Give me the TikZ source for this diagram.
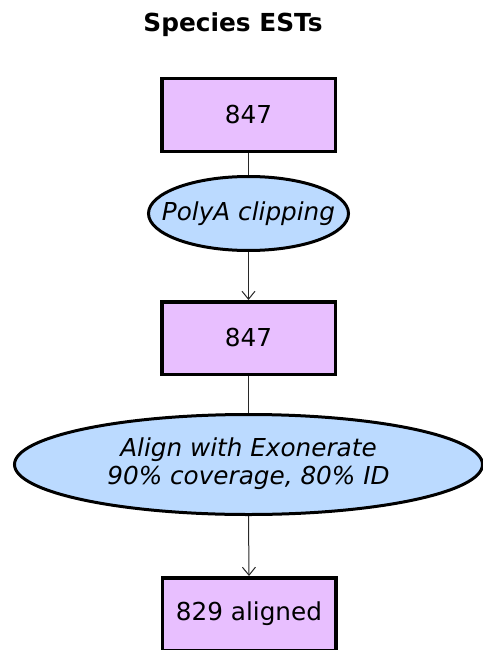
\documentclass[tikz,border=0pt]{standalone}
\usepackage{fontspec}
\setmainfont{DejaVu Sans}
\usetikzlibrary{shapes.geometric,arrows.meta}
\definecolor{boxfill}{RGB}{232,191,255}
\definecolor{ellfill}{RGB}{187,218,255}
\definecolor{linkcol}{RGB}{40,40,40}
\begin{document}
\begin{tikzpicture}[x=1pt,y=-1pt,
  every node/.style={font=\fontsize{24.7}{28.3}\selectfont},
  countbox/.style={draw=black,line width=3.5pt,fill=boxfill,minimum width=173.5pt,minimum height=72.5pt,inner sep=0pt},
  stepell/.style={ellipse,draw=black,line width=3pt,fill=ellfill,inner sep=0pt,font=\fontsize{24.7}{28.3}\selectfont\itshape},
  link/.style={draw=linkcol,line width=1pt},
  arrowlink/.style={link,-{Straight Barb[length=8pt,width=13pt,line width=1pt]}}
]
\useasboundingbox (0,0) rectangle (482,650);
\fill[white] (0,0) rectangle (482,650);
\node[anchor=base,font=\fontsize{24.8}{28}\selectfont\bfseries] (title) at (233,32) {Species ESTs};
\node[countbox] (b1) at (248.5,115) {847};
\node[stepell,minimum width=200pt,minimum height=74pt] (e1) at (248.5,213.5) {\makebox[0pt]{PolyA clipping}};
\node[countbox] (b2) at (248.5,338) {847};
\node[stepell,minimum width=468pt,minimum height=100pt] (e2) at (248.5,464.5) {\makebox[0pt]{\begin{tabular}{@{}c@{}}Align with Exonerate\\90\% coverage, 80\% ID\end{tabular}}};
\node[countbox] (b3) at (249,614) {829 aligned};
\draw[link] (b1.south) -- (e1.north);
\draw[arrowlink] (e1.south) -- (b2.north);
\draw[link] (b2.south) -- (e2.north);
\draw[arrowlink] (e2.south) -- (b3.north);
\end{tikzpicture}
\end{document}
